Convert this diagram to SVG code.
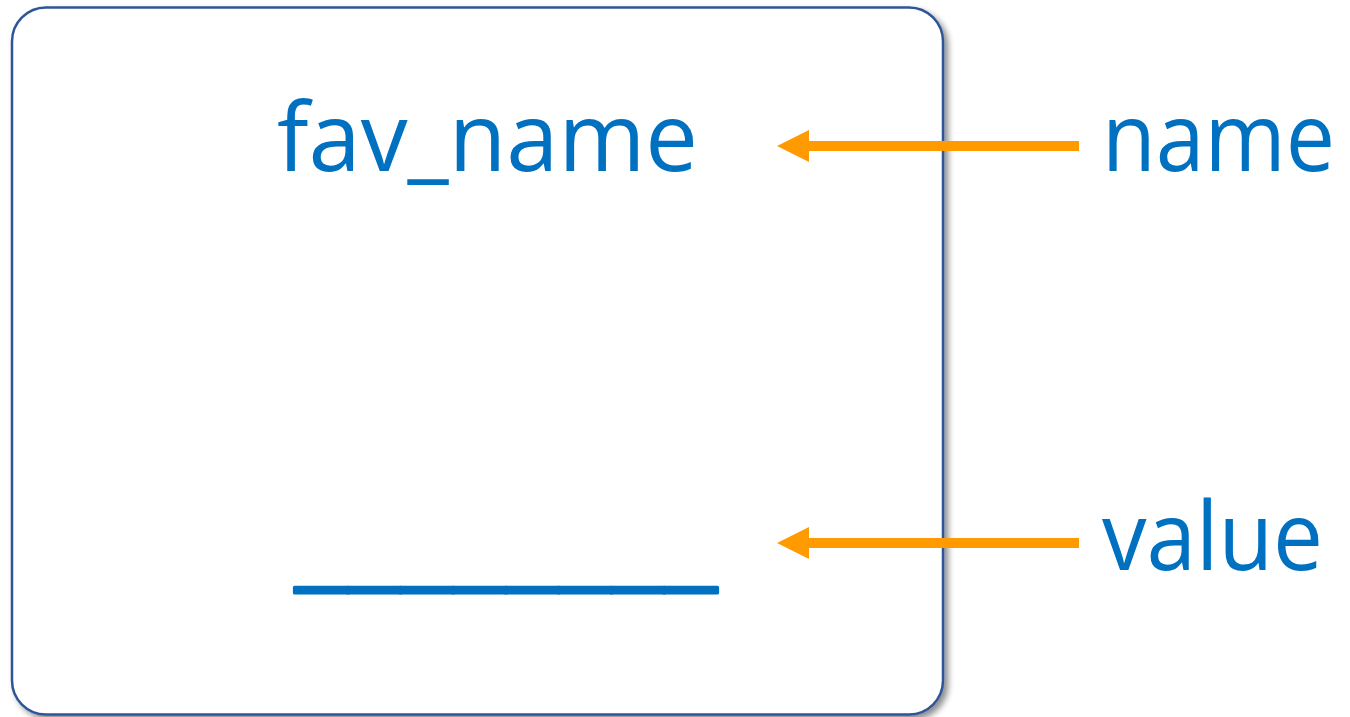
<svg xmlns="http://www.w3.org/2000/svg" width="1350" height="717" viewBox="0 0 1350 717">
  <style>
    .lbl { font-family: "Open Sans", "Liberation Sans", sans-serif; font-size: 96px; fill: #0070C0; }
    .blank { stroke: #0070C0; stroke-width: 3; stroke-linejoin: round; }
    .arrow { stroke: #FF9A00; stroke-width: 10; fill: none; }
    .head { fill: #FF9A00; }
  </style>
  <defs>
    <filter id="shadow" x="-5%" y="-5%" width="115%" height="115%">
      <feGaussianBlur in="SourceAlpha" stdDeviation="3"/>
      <feOffset dx="4" dy="4" result="b"/>
      <feComponentTransfer><feFuncA type="linear" slope="0.45"/></feComponentTransfer>
      <feMerge><feMergeNode/><feMergeNode in="SourceGraphic"/></feMerge>
    </filter>
  </defs>
  <rect width="1350" height="717" fill="#FFFFFF"/>

  <!-- variable box -->
  <g id="box">
    <rect x="12" y="7.5" width="931" height="707" rx="34" ry="34" fill="#FFFFFF" stroke="#2F5597" stroke-width="2.5" filter="url(#shadow)"/>
    <text class="lbl" x="277" y="171" textLength="421" lengthAdjust="spacingAndGlyphs">fav_name</text>
    <text class="lbl blank" x="295" y="579" textLength="422" lengthAdjust="spacingAndGlyphs">________</text>
  </g>

  <g id="name-label">
    <text class="lbl" x="1102" y="171" textLength="233" lengthAdjust="spacingAndGlyphs">name</text>
  </g>
  <g id="value-label">
    <text class="lbl" x="1102" y="570" textLength="221" lengthAdjust="spacingAndGlyphs">value</text>
  </g>

  <!-- connectors -->
  <g id="connectors">
    <path class="arrow" d="M1079,146 H807"/>
    <path class="head" d="M777,146 L809,130 L809,162 Z"/>
    <path class="arrow" d="M1079,543 H807"/>
    <path class="head" d="M777,543 L809,527 L809,559 Z"/>
  </g>
</svg>
